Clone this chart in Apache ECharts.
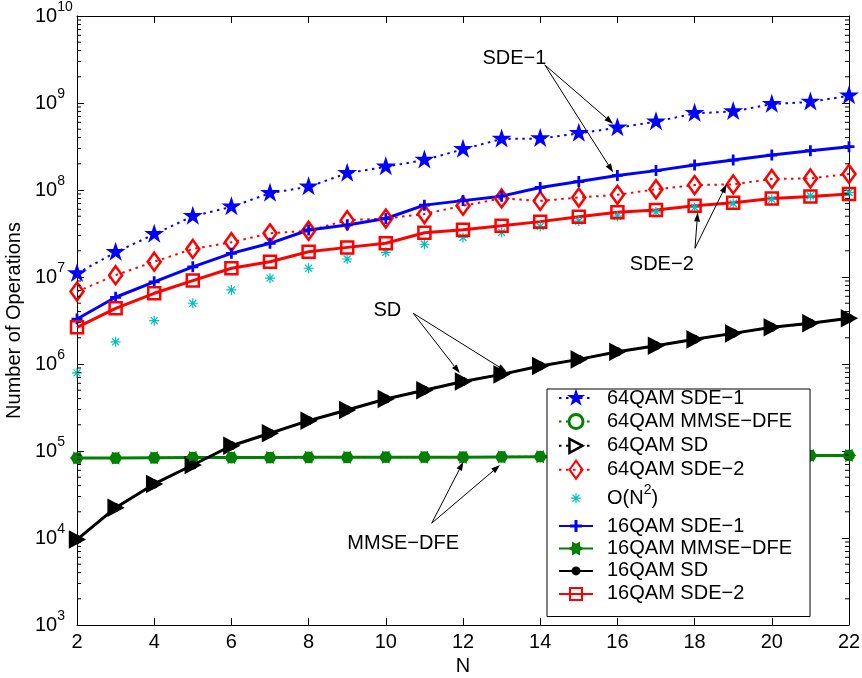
<!DOCTYPE html>
<html>
<head>
<meta charset="utf-8">
<script src="https://cdn.jsdelivr.net/npm/echarts@6/dist/echarts.min.js"></script>
<style>
  html, body { margin: 0; padding: 0; background: #fff; }
  #chart { width: 862px; height: 678px; }
</style>
</head>
<body>
<div id="chart"></div>
<script>
// Number of antennas N
const N = [2, 3, 4, 5, 6, 7, 8, 9, 10, 11, 12, 13, 14, 15, 16, 17, 18, 19, 20, 21, 22];

// Operation counts per detector
const qam64SDE1 = [1.10e7, 1.92e7, 3.1e7, 5.0e7, 6.4e7, 9.2e7, 1.09e8, 1.56e8, 1.85e8, 2.21e8, 2.94e8,
                   3.86e8, 3.9e8, 4.48e8, 5.2e8, 6.1e8, 7.6e8, 8.0e8, 9.7e8, 1.03e9, 1.21e9];
const qam64MMSE = [8.3e4, 8.3e4, 8.35e4, 8.4e4, 8.4e4, 8.4e4, 8.45e4, 8.45e4, 8.5e4, 8.5e4, 8.5e4,
                   8.55e4, 8.6e4, 8.6e4, 8.65e4, 8.7e4, 8.7e4, 8.75e4, 8.8e4, 8.85e4, 8.9e4];
const qam64SD   = [9.6e3, 2.23e4, 4.18e4, 6.9e4, 1.15e5, 1.60e5, 2.23e5, 2.96e5, 3.96e5, 5.0e5, 6.3e5,
                   7.6e5, 9.5e5, 1.13e6, 1.38e6, 1.62e6, 1.92e6, 2.25e6, 2.64e6, 2.94e6, 3.35e6];
const qam64SDE2 = [6.8e6, 1.05e7, 1.50e7, 2.10e7, 2.51e7, 3.18e7, 3.4e7, 4.5e7, 4.7e7, 5.3e7, 6.6e7,
                   8.0e7, 7.5e7, 8.2e7, 8.8e7, 1.02e8, 1.14e8, 1.16e8, 1.34e8, 1.36e8, 1.53e8];
const orderN2   = [7.9e5, 1.80e6, 3.15e6, 4.99e6, 7.1e6, 9.7e6, 1.26e7, 1.61e7, 1.92e7, 2.38e7, 2.85e7,
                   3.25e7, 3.8e7, 4.4e7, 5.0e7, 5.6e7, 6.3e7, 7.0e7, 7.8e7, 8.6e7, 9.4e7];
const qam16SDE1 = [3.29e6, 5.85e6, 8.8e6, 1.31e7, 1.87e7, 2.44e7, 3.47e7, 3.96e7, 4.7e7, 6.7e7, 7.55e7,
                   8.5e7, 1.07e8, 1.25e8, 1.47e8, 1.67e8, 1.94e8, 2.21e8, 2.52e8, 2.83e8, 3.15e8];
const qam16MMSE = [8.3e4, 8.3e4, 8.35e4, 8.4e4, 8.4e4, 8.4e4, 8.45e4, 8.45e4, 8.5e4, 8.5e4, 8.5e4,
                   8.55e4, 8.6e4, 8.6e4, 8.65e4, 8.7e4, 8.7e4, 8.75e4, 8.8e4, 8.85e4, 8.9e4];
const qam16SD   = [9.6e3, 2.23e4, 4.18e4, 6.9e4, 1.15e5, 1.60e5, 2.23e5, 2.96e5, 3.96e5, 5.0e5, 6.3e5,
                   7.6e5, 9.5e5, 1.13e6, 1.38e6, 1.62e6, 1.92e6, 2.25e6, 2.64e6, 2.94e6, 3.35e6];
const qam16SDE2 = [2.64e6, 4.36e6, 6.5e6, 9.1e6, 1.26e7, 1.50e7, 1.95e7, 2.19e7, 2.44e7, 3.23e7, 3.5e7,
                   3.89e7, 4.33e7, 4.93e7, 5.55e7, 5.89e7, 6.6e7, 7.15e7, 8.0e7, 8.4e7, 9.0e7];

// Callout labels: text anchor, arrow tail and arrow tips, all in (N, operations)
const callouts = [
  { label: 'SDE\u22121',     at: [13.33, 3.27e9], from: [14.12, 2.74e9], tips: [[15.89, 5.74e8], [15.89, 1.59e8]] },
  { label: 'SDE\u22122',     at: [17.15, 1.40e7], from: [18.01, 2.14e7], tips: [[18.08, 5.51e7], [18.83, 1.17e8]] },
  { label: 'SD',             at: [10.04, 4.08e6], from: [10.71, 3.83e6], tips: [[11.92, 7.81e5], [13.13, 8.17e5]] },
  { label: 'MMSE\u2212DFE',  at: [10.45, 8.7e3],  from: [11.19, 1.48e4], tips: [[12.01, 7.54e4], [12.96, 6.9e4]] }
];

const FONT = '"Liberation Sans", Arial, Helvetica, sans-serif';
const BLUE = '#0000ff', RED = '#ff0000', GREEN = '#008000', BLACK = '#000000', CYAN = '#00bfbf';

// Marker shapes drawn inside a fixed 100x100 frame (the leading moves pin the frame)
const FRAME = 'path://M0 0 M100 100 ';
const SYM = {
  star: FRAME + 'M50 0 L61.23 34.55 L97.55 34.55 L68.17 55.9 L79.39 90.45 L50 69.1 L20.61 90.45 L31.83 55.9 L2.45 34.55 L38.77 34.55 Z',
  ring: FRAME + 'M13.5 50 A36.5 36.5 0 1 1 86.5 50 A36.5 36.5 0 1 1 13.5 50 Z',
  triRight: FRAME + 'M16 13.5 L84 50 L16 86.5 Z',
  diamond: FRAME + 'M50 3.1 L83.9 50 L50 96.9 L16.1 50 Z',
  asterisk: FRAME + 'M46.9 24 H53.1 V76 H46.9 Z M24 46.9 H76 V53.1 H24 Z ' +
            'M29.4 33.8 L33.8 29.4 L70.6 66.2 L66.2 70.6 Z M66.2 29.4 L70.6 33.8 L33.8 70.6 L29.4 66.2 Z',
  plus: FRAME + 'M42.2 18.75 H57.8 V42.2 H81.25 V57.8 H57.8 V81.25 H42.2 V57.8 H18.75 V42.2 H42.2 Z',
  hexagram: FRAME + 'M91.7 50 L70.87 62.05 L70.85 86.1 L50 74.1 L29.15 86.1 L29.13 62.05 L8.3 50 ' +
            'L29.13 37.95 L29.15 13.9 L50 25.9 L70.85 13.9 L70.87 37.95 Z',
  dot: FRAME + 'M26.6 50 A23.4 23.4 0 1 1 73.4 50 A23.4 23.4 0 1 1 26.6 50 Z',
  square: FRAME + 'M18.75 18.75 H81.25 V81.25 H18.75 Z'
};

const DOTTED = [2.5, 4.5];
const HOLLOW = 'rgba(255,255,255,0)';

function lineSeries(name, values, opts) {
  return Object.assign({
    name: name,
    type: 'line',
    data: N.map((n, i) => [n, values[i]]),
    showSymbol: true,
    showAllSymbol: true,
    animation: false,
    emphasis: { disabled: true },
    xAxisIndex: 0,
    yAxisIndex: 0
  }, opts);
}

const series = [
  lineSeries('64QAM SDE\u22121', qam64SDE1, {
    symbol: SYM.star, symbolSize: 21,
    lineStyle: { color: BLUE, width: 2, type: DOTTED },
    itemStyle: { color: BLUE }
  }),
  lineSeries('64QAM MMSE\u2212DFE', qam64MMSE, {
    symbol: SYM.ring, symbolSize: 12,
    lineStyle: { color: GREEN, width: 2, type: DOTTED },
    itemStyle: { color: HOLLOW, borderColor: GREEN, borderWidth: 3 }
  }),
  lineSeries('64QAM SD', qam64SD, {
    symbol: SYM.triRight, symbolSize: 22,
    lineStyle: { color: BLACK, width: 2, type: DOTTED },
    itemStyle: { color: BLACK, borderColor: BLACK, borderWidth: 1.5 }
  }),
  lineSeries('64QAM SDE\u22122', qam64SDE2, {
    symbol: SYM.diamond, symbolSize: 19.2,
    lineStyle: { color: RED, width: 2, type: DOTTED },
    itemStyle: { color: HOLLOW, borderColor: RED, borderWidth: 2.5 }
  }),
  lineSeries('O(N^2)', orderN2, {
    symbol: SYM.asterisk, symbolSize: 19.2,
    lineStyle: { color: CYAN, width: 0, opacity: 0 },
    itemStyle: { color: CYAN }
  }),
  lineSeries('16QAM SDE\u22121', qam16SDE1, {
    symbol: SYM.plus, symbolSize: 17.6,
    lineStyle: { color: BLUE, width: 3, type: 'solid' },
    itemStyle: { color: BLUE }
  }),
  lineSeries('16QAM MMSE\u2212DFE', qam16MMSE, {
    symbol: SYM.hexagram, symbolSize: 18,
    lineStyle: { color: GREEN, width: 3, type: 'solid' },
    itemStyle: { color: GREEN }
  }),
  lineSeries('16QAM SD', qam16SD, {
    symbol: SYM.dot, symbolSize: 19.2,
    lineStyle: { color: BLACK, width: 3, type: 'solid' },
    itemStyle: { color: BLACK }
  }),
  lineSeries('16QAM SDE\u22122', qam16SDE2, {
    symbol: SYM.square, symbolSize: 19.2,
    lineStyle: { color: RED, width: 3, type: 'solid' },
    itemStyle: { color: HOLLOW, borderColor: RED, borderWidth: 2.5 }
  })
];

// Legend entries; the 64QAM SD key shows an open triangle
const legendData = series.map(s => {
  if (s.name === '64QAM SD') {
    return { name: s.name, itemStyle: { color: '#ffffff', borderColor: BLACK, borderWidth: 2.5 } };
  }
  if (s.name === '64QAM MMSE\u2212DFE') {
    return { name: s.name, itemStyle: { color: '#ffffff', borderColor: GREEN, borderWidth: 3 } };
  }
  return { name: s.name };
});

const axisText = { fontFamily: FONT, fontSize: 20, color: '#000', lineHeight: 20 };
const frameLine = { show: true, onZero: false, lineStyle: { color: '#000', width: 1 } };
const majorTick = { show: true, inside: true, length: 7, lineStyle: { color: '#000', width: 1 } };

const option = {
  animation: false,
  backgroundColor: '#ffffff',
  textStyle: { fontFamily: FONT },
  grid: { left: 77, right: 13, top: 16, bottom: 53, containLabel: false, outerBoundsMode: 'none' },
  xAxis: [
    {
      type: 'value', min: 2, max: 22, interval: 2, position: 'bottom',
      name: 'N', nameLocation: 'middle', nameGap: 28, nameTextStyle: axisText,
      axisLine: frameLine, axisTick: majorTick,
      axisLabel: Object.assign({ show: true, margin: 7 }, axisText),
      splitLine: { show: false }
    },
    {
      type: 'value', min: 2, max: 22, interval: 2, position: 'top',
      axisLine: frameLine, axisTick: majorTick,
      axisLabel: { show: false }, splitLine: { show: false }
    }
  ],
  yAxis: [
    {
      type: 'log', logBase: 10, min: 1e3, max: 1e10, splitNumber: 7, position: 'left',
      name: 'Number of Operations', nameLocation: 'middle', nameGap: 43, nameTextStyle: axisText,
      axisLine: frameLine, axisTick: majorTick,
      axisLabel: {
        show: true, margin: 42, align: 'left',
        formatter: v => '{b|10}{e|' + Math.round(Math.log10(v)) + '}',
        rich: {
          b: { fontFamily: FONT, fontSize: 20, lineHeight: 20, color: '#000' },
          e: { fontFamily: FONT, fontSize: 14, lineHeight: 14, color: '#000', padding: [0, 0, 18, 0] }
        }
      },
      splitLine: { show: false }
    },
    {
      type: 'log', logBase: 10, min: 1e3, max: 1e10, splitNumber: 7, position: 'right',
      axisLine: frameLine, axisTick: majorTick,
      axisLabel: { show: false }, splitLine: { show: false }
    }
  ],
  legend: {
    orient: 'vertical', left: 547, top: 389,
    padding: [-1, 18, 12, 11],
    itemGap: 2.4, itemWidth: 34, itemHeight: 24,
    backgroundColor: '#ffffff', borderColor: '#000', borderWidth: 1, borderRadius: 0,
    selectedMode: false, z: 10,
    data: legendData,
    formatter: name => name === 'O(N^2)' ? '{p|O(N}{s|2}{t|)}' : '{p|' + name + '}',
    textStyle: {
      fontFamily: FONT, fontSize: 20, color: '#000', lineHeight: 20,
      rich: {
        p: { fontFamily: FONT, fontSize: 20, lineHeight: 20, color: '#000', padding: [0, 0, 0, 9] },
        t: { fontFamily: FONT, fontSize: 20, lineHeight: 20, color: '#000' },
        s: { fontFamily: FONT, fontSize: 14, lineHeight: 14, color: '#000', padding: [0, 0, 17, 0] }
      }
    }
  },
  series: series
};

const chart = echarts.init(document.getElementById('chart'), null, { renderer: 'canvas' });
chart.setOption(option);

// Minor log ticks, callout labels and arrows, placed through the chart's own coordinate system
function toPx(n, v) {
  return chart.convertToPixel({ seriesIndex: 0 }, [n, v]);
}

function arrowElements(p0, p1) {
  const head = 9, half = 3;
  const dx = p1[0] - p0[0], dy = p1[1] - p0[1];
  const len = Math.hypot(dx, dy);
  const ux = dx / len, uy = dy / len;
  const bx = p1[0] - ux * head, by = p1[1] - uy * head;
  return [
    { type: 'line', silent: true, z: 50,
      shape: { x1: p0[0], y1: p0[1], x2: bx, y2: by },
      style: { stroke: '#000', lineWidth: 1 } },
    { type: 'polygon', silent: true, z: 50,
      shape: { points: [[p1[0], p1[1]], [bx - uy * half, by + ux * half], [bx + uy * half, by - ux * half]] },
      style: { fill: '#000' } }
  ];
}

const decor = [];
const xLeft = toPx(2, 1e5)[0], xRight = toPx(22, 1e5)[0];
for (let k = 3; k < 10; k++) {
  for (let m = 2; m <= 9; m++) {
    const y = toPx(2, m * Math.pow(10, k))[1];
    decor.push({ type: 'line', silent: true, z: 5, shape: { x1: xLeft, y1: y, x2: xLeft + 4, y2: y },
                 style: { stroke: '#000', lineWidth: 1 } });
    decor.push({ type: 'line', silent: true, z: 5, shape: { x1: xRight - 4, y1: y, x2: xRight, y2: y },
                 style: { stroke: '#000', lineWidth: 1 } });
  }
}
callouts.forEach(c => {
  const at = toPx(c.at[0], c.at[1]);
  decor.push({ type: 'text', silent: true, z: 50, x: at[0], y: at[1],
               style: { text: c.label, fill: '#000', font: '20px ' + FONT, align: 'center', verticalAlign: 'middle' } });
  const from = toPx(c.from[0], c.from[1]);
  c.tips.forEach(t => { arrowElements(from, toPx(t[0], t[1])).forEach(e => decor.push(e)); });
});
chart.setOption({ graphic: decor });
</script>
</body>
</html>
